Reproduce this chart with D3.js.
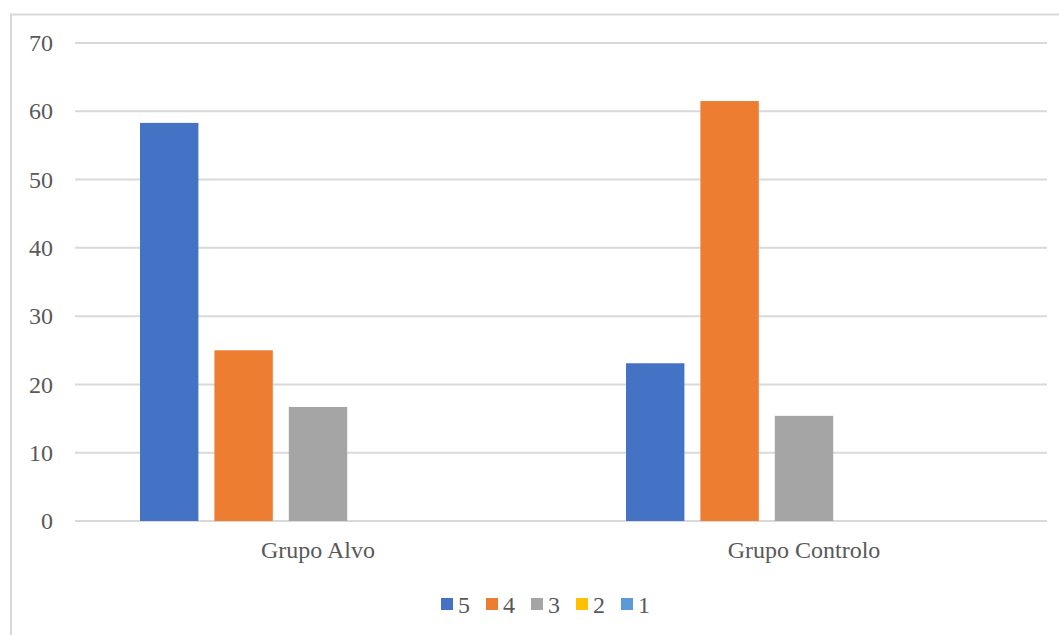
<!DOCTYPE html>
<html>
<head>
<meta charset="utf-8">
<script src="https://cdn.jsdelivr.net/npm/d3@7"></script>
<style>
  body { margin: 0; background: #fff; }
  text { font-family: "Liberation Serif", "DejaVu Serif", serif; fill: #595959; }
</style>
</head>
<body>
<div id="chart"></div>
<script>
var groups = ["Grupo Alvo", "Grupo Controlo"];
var seriesNames = ["5", "4", "3", "2", "1"];
var seriesColors = ["#4472C4", "#ED7D31", "#A5A5A5", "#FFC000", "#5B9BD5"];
var grupoAlvo = [58.3, 25.0, 16.7, 0, 0];
var grupoControlo = [23.1, 61.5, 15.4, 0, 0];
var yTicks = [0, 10, 20, 30, 40, 50, 60, 70];

var svgWidth = 1059;
var svgHeight = 635;
var margin = { top: 43, right: 12, bottom: 114, left: 75 };
var width = svgWidth - margin.left - margin.right;
var height = svgHeight - margin.top - margin.bottom;
var fontSize = 24;

var svg = d3.select("#chart")
  .append("svg")
  .attr("width", svgWidth)
  .attr("height", svgHeight);

// outer frame
svg.append("path")
  .attr("d", "M11,640 V14.5 H1065")
  .attr("fill", "none")
  .attr("stroke", "#d9d9d9")
  .attr("stroke-width", 2);

var chartGroup = svg.append("g")
  .attr("transform", `translate(${margin.left}, ${margin.top})`);

var values = [grupoAlvo, grupoControlo];

var x0 = d3.scaleBand()
  .domain(groups)
  .range([0, width])
  .paddingInner(0)
  .paddingOuter(0);

var x1 = d3.scaleBand()
  .domain(seriesNames)
  .range([65, x0.bandwidth() - 65])
  .paddingInner(0.215)
  .paddingOuter(0);

var y = d3.scaleLinear()
  .domain([0, 70])
  .range([height, 0]);

// gridlines
chartGroup.selectAll("line.grid")
  .data(yTicks)
  .enter()
  .append("line")
  .attr("class", "grid")
  .attr("x1", 0)
  .attr("x2", width)
  .attr("y1", d => y(d))
  .attr("y2", d => y(d))
  .attr("stroke", "#d9d9d9")
  .attr("stroke-width", 2);

// y axis labels
var yAxis = d3.axisLeft(y).tickValues(yTicks).tickSize(0).tickPadding(22);
chartGroup.append("g")
  .call(yAxis)
  .call(g => g.select(".domain").remove())
  .selectAll("text")
  .attr("font-size", fontSize)
  .attr("font-family", null)
  .attr("fill", null);

// bars
var groupG = chartGroup.selectAll("g.grp")
  .data(groups)
  .enter()
  .append("g")
  .attr("class", "grp")
  .attr("transform", d => `translate(${x0(d)}, 0)`);

groupG.selectAll("rect")
  .data((d, i) => values[i].map((v, j) => ({ key: seriesNames[j], value: v, color: seriesColors[j] })))
  .enter()
  .append("rect")
  .attr("x", d => x1(d.key))
  .attr("width", x1.bandwidth())
  .attr("y", d => y(d.value))
  .attr("height", d => height - y(d.value))
  .attr("fill", d => d.color);

// x axis labels
var xAxis = d3.axisBottom(x0).tickSize(0).tickPadding(20);
chartGroup.append("g")
  .attr("transform", `translate(0, ${height})`)
  .call(xAxis)
  .call(g => g.select(".domain").remove())
  .selectAll("text")
  .attr("font-size", fontSize)
  .attr("font-family", null)
  .attr("fill", null);

// legend
var legend = svg.append("g")
  .attr("transform", "translate(441, 604)");

var item = legend.selectAll("g")
  .data(seriesNames)
  .enter()
  .append("g")
  .attr("transform", (d, i) => `translate(${i * 45}, 0)`);

item.append("rect")
  .attr("x", 0)
  .attr("y", -6)
  .attr("width", 12)
  .attr("height", 12)
  .attr("fill", (d, i) => seriesColors[i]);

item.append("text")
  .attr("x", 17)
  .attr("y", 9)
  .attr("font-size", fontSize)
  .text(d => d);
</script>
</body>
</html>
